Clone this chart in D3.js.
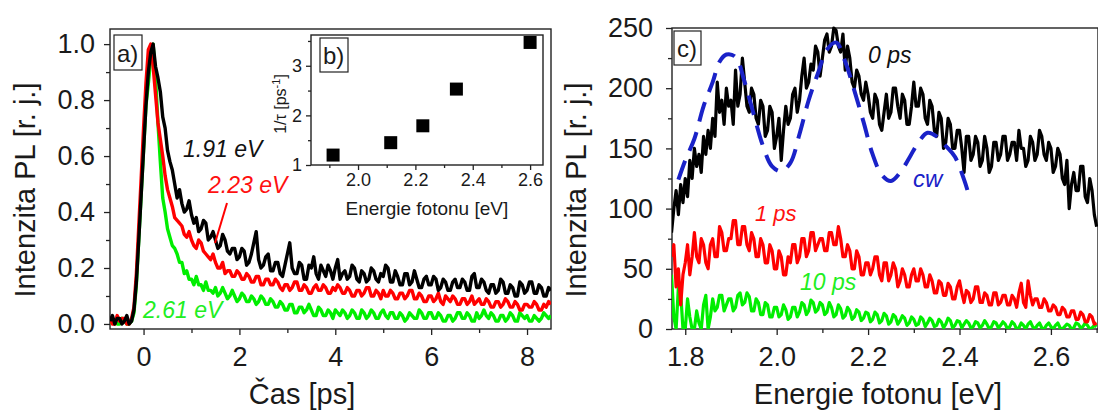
<!DOCTYPE html>
<html>
<head>
<meta charset="utf-8">
<script src="https://cdn.jsdelivr.net/npm/d3@7"></script>
<style>
  body { margin: 0; background: #fff; }
  svg { display: block; font-family: "Liberation Sans", Arial, sans-serif; }
</style>
</head>
<body>
<svg id="chart" width="1098" height="412"></svg>
<script>
// ---- panel a) : PL decay vs time (ps) ----
const timePs = [
  -0.70,-0.65,-0.60,-0.55,-0.50,-0.45,-0.40,-0.35,-0.30,-0.25,-0.20,-0.15,-0.10,-0.05,
  0.00,0.05,0.10,0.15,0.20,0.25,0.30,0.35,0.40,0.45,0.50,0.55,0.60,0.65,0.70,0.75,0.80,0.85,0.90,0.95,
  1.00,1.05,1.10,1.15,1.20,1.25,1.30,1.35,1.40,1.45,1.50,1.55,1.60,1.65,1.70,1.75,1.80,1.85,1.90,1.95,
  2.00,2.05,2.10,2.15,2.20,2.25,2.30,2.35,2.40,2.45,2.50,2.55,2.60,2.65,2.70,2.75,2.80,2.85,2.90,2.95,
  3.00,3.05,3.10,3.15,3.20,3.25,3.30,3.35,3.40,3.45,3.50,3.55,3.60,3.65,3.70,3.75,3.80,3.85,3.90,3.95,
  4.00,4.05,4.10,4.15,4.20,4.25,4.30,4.35,4.40,4.45,4.50,4.55,4.60,4.65,4.70,4.75,4.80,4.85,4.90,4.95,
  5.00,5.05,5.10,5.15,5.20,5.25,5.30,5.35,5.40,5.45,5.50,5.55,5.60,5.65,5.70,5.75,5.80,5.85,5.90,5.95,
  6.00,6.05,6.10,6.15,6.20,6.25,6.30,6.35,6.40,6.45,6.50,6.55,6.60,6.65,6.70,6.75,6.80,6.85,6.90,6.95,
  7.00,7.05,7.10,7.15,7.20,7.25,7.30,7.35,7.40,7.45,7.50,7.55,7.60,7.65,7.70,7.75,7.80,7.85,7.90,7.95,
  8.00,8.05,8.10,8.15,8.20,8.25,8.30,8.35,8.40,8.45,8.50
];
const pl191 = [
  0.01,0.03,0.00,0.02,0.02,0.00,0.01,0.03,0.00,0.01,0.05,0.15,0.30,0.46,
  0.62,0.78,0.90,0.97,1.00,0.92,0.88,0.83,0.74,0.70,0.62,0.58,0.55,0.50,0.45,0.48,0.43,0.40,0.41,0.44,
  0.39,0.36,0.38,0.33,0.34,0.37,0.36,0.30,0.31,0.33,0.30,0.27,0.28,0.32,0.30,0.26,0.25,0.27,0.27,0.23,
  0.24,0.27,0.26,0.21,0.22,0.25,0.29,0.33,0.23,0.20,0.21,0.24,0.25,0.19,0.19,0.22,0.22,0.18,0.17,0.21,
  0.25,0.29,0.20,0.18,0.18,0.22,0.21,0.16,0.16,0.21,0.20,0.24,0.18,0.16,0.21,0.19,0.17,0.21,0.19,0.16,
  0.20,0.23,0.16,0.18,0.19,0.16,0.17,0.21,0.20,0.16,0.15,0.19,0.18,0.15,0.16,0.20,0.19,0.16,0.15,0.18,
  0.17,0.21,0.20,0.15,0.15,0.19,0.17,0.14,0.14,0.18,0.18,0.14,0.15,0.19,0.16,0.13,0.13,0.16,0.17,0.14,
  0.14,0.17,0.16,0.12,0.13,0.16,0.15,0.12,0.12,0.15,0.16,0.13,0.13,0.16,0.15,0.12,0.12,0.17,0.18,0.13,
  0.13,0.16,0.15,0.12,0.11,0.14,0.14,0.11,0.12,0.16,0.15,0.11,0.11,0.14,0.13,0.10,0.10,0.15,0.14,0.11,
  0.12,0.15,0.15,0.11,0.11,0.14,0.13,0.10,0.10,0.13,0.12
];
const pl223 = [
  0.02,0.00,0.00,0.03,0.01,0.02,0.02,0.00,0.00,0.02,0.06,0.18,0.35,0.52,
  0.70,0.86,0.98,1.00,0.92,0.82,0.72,0.66,0.60,0.53,0.48,0.45,0.42,0.38,0.37,0.36,0.35,0.32,0.31,0.33,
  0.30,0.28,0.27,0.30,0.29,0.26,0.25,0.24,0.23,0.25,0.22,0.20,0.20,0.22,0.18,0.19,0.19,0.17,0.17,0.19,
  0.18,0.16,0.16,0.18,0.17,0.15,0.15,0.17,0.17,0.14,0.14,0.16,0.16,0.14,0.14,0.16,0.15,0.13,0.12,0.14,
  0.14,0.12,0.13,0.15,0.15,0.12,0.12,0.14,0.13,0.11,0.11,0.13,0.14,0.12,0.12,0.14,0.13,0.11,0.11,0.13,
  0.12,0.14,0.13,0.11,0.11,0.13,0.12,0.10,0.10,0.12,0.12,0.10,0.11,0.13,0.13,0.10,0.10,0.12,0.11,0.09,
  0.12,0.10,0.10,0.12,0.11,0.09,0.09,0.11,0.11,0.09,0.10,0.12,0.12,0.09,0.09,0.11,0.10,0.08,0.08,0.10,
  0.10,0.08,0.09,0.11,0.08,0.07,0.10,0.09,0.08,0.10,0.09,0.07,0.07,0.09,0.09,0.07,0.08,0.10,0.07,0.08,
  0.09,0.07,0.07,0.09,0.08,0.06,0.06,0.08,0.08,0.06,0.07,0.09,0.08,0.06,0.06,0.08,0.07,0.05,0.05,0.07,
  0.07,0.06,0.06,0.08,0.07,0.05,0.05,0.07,0.06,0.08,0.07
];
const pl261 = [
  0.00,0.01,0.01,0.00,0.00,0.02,0.01,0.00,0.00,0.01,0.04,0.14,0.30,0.46,
  0.62,0.78,0.86,0.95,1.00,0.88,0.72,0.58,0.45,0.40,0.34,0.31,0.28,0.27,0.25,0.22,0.22,0.18,0.19,0.16,
  0.16,0.14,0.17,0.14,0.14,0.12,0.15,0.12,0.12,0.11,0.13,0.10,0.11,0.13,0.11,0.09,0.10,0.12,0.10,0.08,
  0.09,0.11,0.10,0.08,0.08,0.10,0.09,0.07,0.08,0.10,0.09,0.07,0.07,0.09,0.08,0.06,0.06,0.08,0.07,0.05,
  0.05,0.07,0.07,0.04,0.04,0.06,0.06,0.04,0.05,0.07,0.05,0.03,0.03,0.06,0.05,0.03,0.03,0.05,0.04,0.02,
  0.05,0.04,0.03,0.05,0.04,0.02,0.03,0.05,0.04,0.02,0.02,0.05,0.04,0.02,0.03,0.05,0.04,0.02,0.02,0.04,
  0.05,0.03,0.02,0.04,0.04,0.02,0.02,0.04,0.03,0.01,0.02,0.04,0.03,0.02,0.02,0.05,0.04,0.02,0.02,0.04,
  0.04,0.02,0.02,0.04,0.03,0.01,0.01,0.03,0.03,0.01,0.02,0.04,0.04,0.02,0.02,0.04,0.03,0.01,0.01,0.04,
  0.02,0.03,0.05,0.03,0.02,0.04,0.03,0.01,0.01,0.03,0.03,0.01,0.02,0.04,0.03,0.01,0.01,0.04,0.03,0.02,
  0.03,0.01,0.01,0.03,0.02,0.01,0.02,0.04,0.03,0.02,0.03
];

// ---- panel b) : decay rate vs photon energy ----
const rateEnergy = [1.913, 2.114, 2.226, 2.343, 2.60];
const rateValue  = [1.20, 1.45, 1.79, 2.53, 3.47];

// ---- panel c) : PL spectra (eV) ----
const energyEv = [
  1.770,1.775,1.780,1.785,1.790,1.795,
  1.800,1.805,1.810,1.815,1.820,1.825,1.830,1.835,1.840,1.845,1.850,1.855,1.860,1.865,1.870,1.875,1.880,1.885,1.890,1.895,
  1.900,1.905,1.910,1.915,1.920,1.925,1.930,1.935,1.940,1.945,1.950,1.955,1.960,1.965,1.970,1.975,1.980,1.985,1.990,1.995,
  2.000,2.005,2.010,2.015,2.020,2.025,2.030,2.035,2.040,2.045,2.050,2.055,2.060,2.065,2.070,2.075,2.080,2.085,2.090,2.095,
  2.100,2.105,2.110,2.115,2.120,2.125,2.130,2.135,2.140,2.145,2.150,2.155,2.160,2.165,2.170,2.175,2.180,2.185,2.190,2.195,
  2.200,2.205,2.210,2.215,2.220,2.225,2.230,2.235,2.240,2.245,2.250,2.255,2.260,2.265,2.270,2.275,2.280,2.285,2.290,2.295,
  2.300,2.305,2.310,2.315,2.320,2.325,2.330,2.335,2.340,2.345,2.350,2.355,2.360,2.365,2.370,2.375,2.380,2.385,2.390,2.395,
  2.400,2.405,2.410,2.415,2.420,2.425,2.430,2.435,2.440,2.445,2.450,2.455,2.460,2.465,2.470,2.475,2.480,2.485,2.490,2.495,
  2.500,2.505,2.510,2.515,2.520,2.525,2.530,2.535,2.540,2.545,2.550,2.555,2.560,2.565,2.570,2.575,2.580,2.585,2.590,2.595,
  2.600,2.605,2.610,2.615,2.620,2.625,2.630,2.635,2.640,2.645,2.650,2.655,2.660,2.665,2.670,2.675,2.680,2.685,2.690,2.695,
  2.700
];
const pl0ps = [
  80,100,115,95,120,105,
  125,110,140,125,150,135,145,130,160,145,165,150,175,160,205,180,190,170,200,185,
  190,170,215,185,195,225,205,185,180,200,195,175,170,190,185,160,165,185,180,150,
  160,175,140,165,185,170,175,195,200,180,190,210,225,200,205,220,215,235,230,210,
  225,240,245,230,235,250,248,235,230,245,215,235,225,205,200,215,210,195,190,205,
  195,180,175,195,190,170,165,180,195,175,180,200,200,185,175,195,190,170,170,185,
  205,185,185,200,195,175,170,190,185,165,160,180,175,150,155,175,170,150,150,165,
  165,150,130,160,160,140,145,160,155,135,140,160,150,130,135,155,155,140,145,160,
  160,140,145,155,155,140,165,150,150,135,140,160,155,140,145,165,160,145,140,155,
  150,130,135,150,145,125,120,140,100,120,130,115,115,135,135,110,105,125,115,95,
  85
];
const pl1ps = [
  60,70,35,50,20,45,
  55,70,45,60,80,60,55,75,70,55,50,70,75,60,60,85,80,65,65,75,
  75,90,90,70,70,85,85,70,65,80,75,60,60,75,70,55,55,70,65,50,
  50,65,60,45,45,60,55,70,70,55,60,75,75,60,65,80,80,65,70,75,
  75,65,65,80,80,70,70,85,75,60,60,70,65,50,50,65,60,45,45,55,
  55,45,50,60,60,45,40,55,55,40,45,55,50,35,40,50,45,35,35,45,
  50,40,40,50,45,35,35,45,40,30,30,40,38,28,28,38,35,25,25,35,
  40,30,22,32,30,22,25,35,35,22,22,30,28,20,20,30,30,20,22,28,
  28,20,20,28,25,18,30,38,22,18,40,28,20,25,25,18,18,25,22,15,
  15,20,18,12,12,18,16,10,10,15,15,8,8,14,12,6,6,12,10,4,
  5
];
const pl10ps = [
  45,10,0,35,30,0,
  0,25,10,0,0,15,5,0,20,28,0,10,25,15,18,28,28,15,20,25,
  25,15,18,28,30,20,22,30,27,15,15,25,22,12,12,22,20,10,10,18,
  18,10,12,20,16,8,10,18,18,10,14,22,20,12,15,24,22,14,16,22,
  20,12,14,22,18,10,12,20,17,9,11,18,15,8,10,16,14,7,9,14,
  13,6,8,14,12,5,7,13,11,4,6,12,10,4,7,11,9,3,5,10,
  8,3,4,10,8,2,5,9,7,2,3,8,6,1,4,9,7,1,3,7,
  6,1,4,7,5,1,2,6,5,1,3,7,4,0,2,6,5,1,3,6,
  4,0,2,6,4,0,1,5,3,0,4,6,2,0,3,5,1,0,3,5,
  2,0,3,5,1,0,2,4,3,0,1,5,4,1,2,5,3,0,1,3,
  2
];
const cwEnergy = [1.785,1.80,1.82,1.84,1.86,1.875,1.89,1.91,1.93,1.95,1.97,1.99,2.01,2.03,2.05,2.07,2.09,2.11,2.13,2.15,2.17,2.19,2.21,2.23,2.25,2.27,2.29,2.31,2.33,2.35,2.37,2.39,2.41,2.42];
const cwValue  = [124,140,158,185,205,222,228,226,205,178,152,135,131,138,162,190,212,232,238,222,198,172,145,128,123,130,142,155,163,160,152,143,124,112];

const svg = d3.select('#chart');
const AXIS = '#222';

function styleAxis(g, fontSize) {
  g.select('.domain').remove();
  g.selectAll('line').attr('stroke', AXIS).attr('stroke-width', 1.3);
  g.selectAll('text').attr('fill', '#1a1a1a').style('font-size', fontSize + 'px')
    .style('font-family', '"Liberation Sans", Arial, sans-serif');
}

function addAxes(x, y, o) {
  const [x0] = x.range();
  const [y0] = y.range();
  svg.append('g').attr('transform', `translate(0,${y0})`)
    .call(d3.axisBottom(x).tickValues(o.xMinor).tickSize(o.minor).tickFormat(''))
    .call(g => styleAxis(g, o.font));
  svg.append('g').attr('transform', `translate(0,${y0})`)
    .call(d3.axisBottom(x).tickValues(o.xMajor).tickSize(o.major).tickPadding(o.xPad).tickFormat(o.xFmt))
    .call(g => styleAxis(g, o.font));
  svg.append('g').attr('transform', `translate(${x0},0)`)
    .call(d3.axisLeft(y).tickValues(o.yMinor).tickSize(o.minor).tickFormat(''))
    .call(g => styleAxis(g, o.font));
  svg.append('g').attr('transform', `translate(${x0},0)`)
    .call(d3.axisLeft(y).tickValues(o.yMajor).tickSize(o.major).tickPadding(o.yPad).tickFormat(o.yFmt))
    .call(g => styleAxis(g, o.font));
}

function frame(x, y, fill) {
  const [x0, x1] = x.range();
  const [y0, y1] = y.range();
  svg.append('rect').attr('x', x0).attr('y', y1).attr('width', x1 - x0).attr('height', y0 - y1)
    .attr('fill', fill || 'none').attr('stroke', AXIS).attr('stroke-width', 1.4);
}

function clip(id, x, y) {
  const [x0, x1] = x.range();
  const [y0, y1] = y.range();
  svg.append('clipPath').attr('id', id).append('rect')
    .attr('x', x0).attr('y', y1 - 2).attr('width', x1 - x0).attr('height', y0 - y1 + 2);
}

function panelTag(txt, x, y, w, h) {
  svg.append('rect').attr('x', x).attr('y', y).attr('width', w).attr('height', h)
    .attr('fill', '#fff').attr('stroke', AXIS).attr('stroke-width', 1.2);
  svg.append('text').attr('x', x + 3).attr('y', y + h - 8).text(txt)
    .style('font-size', '24px').attr('fill', '#1a1a1a');
}

function note(txt, x, y, color, size) {
  svg.append('text').attr('x', x).attr('y', y).text(txt)
    .attr('fill', color).style('font-size', (size || 23) + 'px').style('font-style', 'italic');
}

// ===== panel a =====
const xA = d3.scaleLinear().domain([-0.7, 8.5]).range([110, 551]);
const yA = d3.scaleLinear().domain([-0.018, 1.054]).range([329, 29]);
clip('clipA', xA, yA);
frame(xA, yA);

const lineA = (vals) => d3.line().x((d, i) => xA(timePs[i])).y(d => yA(d))(vals);
const gA = svg.append('g').attr('clip-path', 'url(#clipA)');
[[pl261, '#00ee00'], [pl223, '#ff0000'], [pl191, '#000000']].forEach(([vals, c]) => {
  gA.append('path').attr('d', lineA(vals)).attr('fill', 'none').attr('stroke', c)
    .attr('stroke-width', 3.4).attr('stroke-linejoin', 'round');
});

addAxes(xA, yA, {
  xMajor: [0, 2, 4, 6, 8], xMinor: [1, 3, 5, 7],
  yMajor: [0, 0.2, 0.4, 0.6, 0.8, 1.0], yMinor: [0.1, 0.3, 0.5, 0.7, 0.9],
  xFmt: d3.format('d'), yFmt: d3.format('.1f'),
  major: 6, minor: 4, xPad: 12, yPad: 9, font: 27
});

// ===== panel b (inset) =====
const xB = d3.scaleLinear().domain([1.836, 2.645]).range([311, 543]);
const yB = d3.scaleLinear().domain([1, 3.62]).range([165, 35]);
frame(xB, yB, '#fff');
addAxes(xB, yB, {
  xMajor: [2.0, 2.2, 2.4, 2.6], xMinor: [1.9, 2.1, 2.3, 2.5],
  yMajor: [1, 2, 3], yMinor: [1.5, 2.5, 3.5],
  xFmt: d3.format('.1f'), yFmt: d3.format('d'),
  major: 5, minor: 3, xPad: 3, yPad: 4, font: 18
});
svg.append('g').selectAll('rect').data(rateEnergy).join('rect')
  .attr('x', (d) => xB(d) - 6.5).attr('y', (d, i) => yB(rateValue[i]) - 6.5)
  .attr('width', 13).attr('height', 13).attr('fill', '#000');
svg.append('text').attr('x', xB(2.24)).attr('y', 215).attr('text-anchor', 'middle')
  .text('Energie fotonu [eV]').style('font-size', '19px').attr('fill', '#1a1a1a');
svg.append('text').attr('transform', 'translate(286,104) rotate(-90)').attr('text-anchor', 'middle')
  .style('font-size', '16px').attr('fill', '#1a1a1a')
  .html('1/τ [ps<tspan dy="-6" font-size="11px">-1</tspan><tspan dy="6">]</tspan>');
panelTag('b)', 320, 38, 28, 34);

panelTag('a)', 114, 35, 28, 35);
svg.append('text').attr('transform', 'translate(35,190) rotate(-90)').attr('text-anchor', 'middle')
  .text('Intenzita PL [r. j.]').style('font-size', '29px').attr('fill', '#1a1a1a');
svg.append('text').attr('x', 302).attr('y', 404).attr('text-anchor', 'middle')
  .text('Čas [ps]').style('font-size', '29px').attr('fill', '#1a1a1a');
note('1.91 eV', 183, 157, '#111');
note('2.23 eV', 208, 193, '#ff1010');
note('2.61 eV', 143, 318, '#22ee22');
svg.append('line').attr('x1', 227).attr('y1', 203).attr('x2', 215).attr('y2', 243)
  .attr('stroke', '#ff0000').attr('stroke-width', 2);

// ===== panel c =====
const xC = d3.scaleLinear().domain([1.771, 2.703]).range([672, 1098]);
const yC = d3.scaleLinear().domain([0, 250]).range([329, 28]);
clip('clipC', xC, yC);
frame(xC, yC);
const lineC = (vals) => d3.line().x((d, i) => xC(energyEv[i])).y(d => yC(d))(vals);
const gC = svg.append('g').attr('clip-path', 'url(#clipC)');
[[pl10ps, '#00ee00'], [pl1ps, '#ff0000'], [pl0ps, '#000000']].forEach(([vals, c]) => {
  gC.append('path').attr('d', lineC(vals)).attr('fill', 'none').attr('stroke', c)
    .attr('stroke-width', 3.2).attr('stroke-linejoin', 'round');
});
gC.append('path')
  .attr('d', d3.line().curve(d3.curveCatmullRom).x((d, i) => xC(cwEnergy[i])).y(d => yC(d))(cwValue))
  .attr('fill', 'none').attr('stroke', '#1a22c8').attr('stroke-width', 4)
  .attr('stroke-dasharray', '20,11');

addAxes(xC, yC, {
  xMajor: [1.8, 2.0, 2.2, 2.4, 2.6], xMinor: [1.9, 2.1, 2.3, 2.5, 2.7],
  yMajor: [0, 50, 100, 150, 200, 250], yMinor: [25, 75, 125, 175, 225],
  xFmt: d3.format('.1f'), yFmt: d3.format('d'),
  major: 6, minor: 4, xPad: 12, yPad: 13, font: 27
});
panelTag('c)', 674, 31, 27, 34);
svg.append('text').attr('transform', 'translate(586,190) rotate(-90)').attr('text-anchor', 'middle')
  .text('Intenzita PL [r. j.]').style('font-size', '29px').attr('fill', '#1a1a1a');
svg.append('text').attr('x', 878).attr('y', 404).attr('text-anchor', 'middle')
  .text('Energie fotonu [eV]').style('font-size', '29px').attr('fill', '#1a1a1a');
note('0 ps', 868, 63, '#111');
note('cw', 913, 187, '#1a22c8', 24);
note('1 ps', 755, 221, '#ff1010', 22);
note('10 ps', 800, 290, '#22ee22');
</script>
</body>
</html>
